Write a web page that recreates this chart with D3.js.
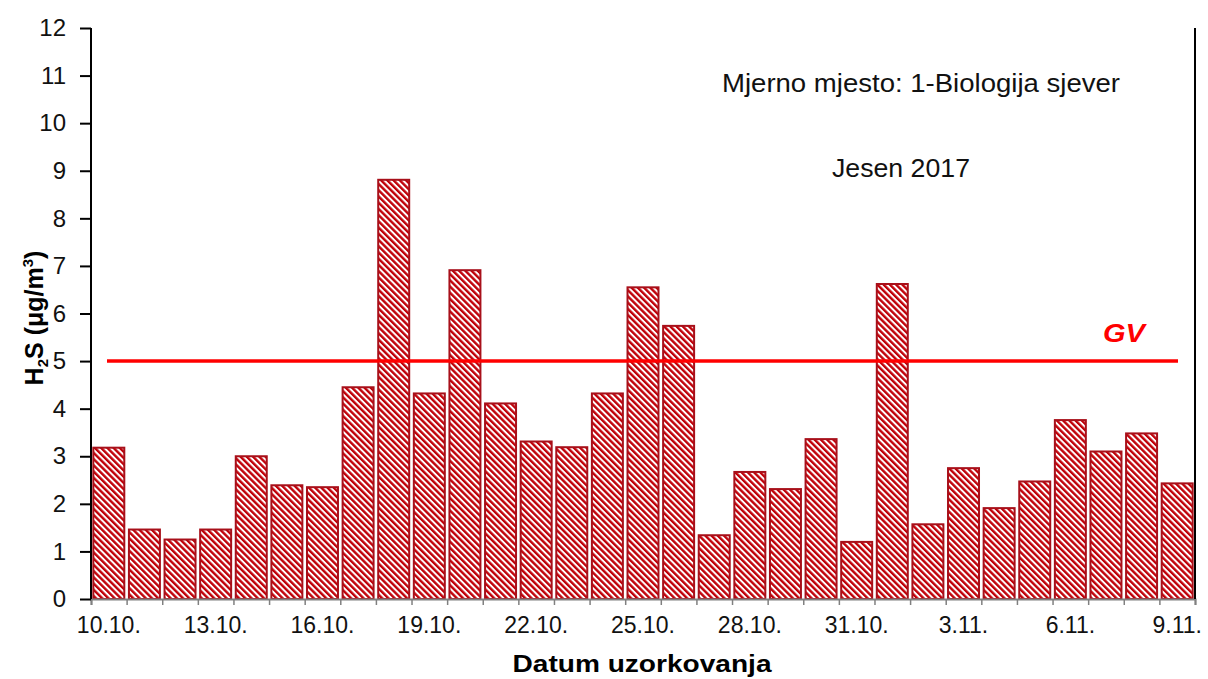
<!DOCTYPE html>
<html>
<head>
<meta charset="utf-8">
<script src="https://cdn.jsdelivr.net/npm/d3@7"></script>
<style>
  body { margin: 0; background: #fff; }
  svg { display: block; font-family: "Liberation Sans", Arial, sans-serif; }
</style>
</head>
<body>
<div id="chart"></div>
<script>
// chart size
const WIDTH = 1208;
const HEIGHT = 679;
const PLOT = {left: 91, right: 1195, top: 28, bottom: 599};

// sampling days (autumn 2017)
const DATES = ["10.10.", "11.10.", "12.10.", "13.10.", "14.10.", "15.10.", "16.10.", "17.10.",
               "18.10.", "19.10.", "20.10.", "21.10.", "22.10.", "23.10.", "24.10.", "25.10.",
               "26.10.", "27.10.", "28.10.", "29.10.", "30.10.", "31.10.", "1.11.", "2.11.",
               "3.11.", "4.11.", "5.11.", "6.11.", "7.11.", "8.11.", "9.11."];

// H2S concentration, µg/m3
const H2S = [3.18, 1.46, 1.25, 1.46, 3.0, 2.39, 2.35, 4.45, 8.81, 4.32, 6.91, 4.11, 3.31, 3.19, 4.32, 6.55,
             5.74, 1.34, 2.67, 2.31, 3.36, 1.20, 6.62, 1.57, 2.75, 1.91, 2.47, 3.76, 3.10, 3.48, 2.43];

// labelled dates on x axis
const X_LABELS = ["10.10.", "13.10.", "16.10.", "19.10.", "22.10.", "25.10.", "28.10.", "31.10.",
                  "3.11.", "6.11.", "9.11."];

const Y_TICKS = d3.range(0, 13);
const GV = 5; // limit value

const svg = d3.select("#chart")
              .append("svg")
                .attr("width", WIDTH)
                .attr("height", HEIGHT);

// hatch pattern for bars
const pat = svg.append("defs")
               .append("pattern")
                 .attr("id", "hatch")
                 .attr("patternUnits", "userSpaceOnUse")
                 .attr("width", 4.4)
                 .attr("height", 4.4)
                 .attr("patternTransform", "rotate(-45)");
pat.append("rect").attr("width", 4.4).attr("height", 4.4).attr("fill", "#fff");
pat.append("rect").attr("width", 2.4).attr("height", 4.4).attr("fill", "#c00008");

// scales
const x = d3.scaleBand()
            .domain(DATES)
            .range([PLOT.left, PLOT.right])
            .paddingInner(0.13)
            .paddingOuter(0.065);

const xEdge = d3.scaleLinear()
                .domain([0, DATES.length])
                .range([PLOT.left, PLOT.right]);

const y = d3.scaleLinear()
            .domain([0, 12])
            .range([PLOT.bottom, PLOT.top]);

// bars
svg.append("g")
   .selectAll("rect")
   .data(H2S)
   .enter()
   .append("rect")
     .attr("x", (d, i) => x(DATES[i]))
     .attr("y", (d) => y(d))
     .attr("width", x.bandwidth())
     .attr("height", (d) => y(0) - y(d))
     .attr("fill", "url(#hatch)")
     .attr("stroke", "#a8101a")
     .attr("stroke-width", 2);

// x axis: tick marks at day boundaries
const xTicks = svg.append("g")
   .attr("transform", "translate(0," + PLOT.bottom + ")")
   .call(d3.axisBottom(xEdge).tickValues(d3.range(0, DATES.length + 1)).tickSize(6).tickFormat(""));
xTicks.select(".domain").attr("stroke", "#808080").attr("stroke-width", 2);
xTicks.selectAll(".tick line").attr("stroke", "#808080").attr("stroke-width", 1.5);

// x axis labels
const xLab = svg.append("g")
   .attr("transform", "translate(0," + PLOT.bottom + ")")
   .call(d3.axisBottom(x).tickValues(X_LABELS).tickSize(0).tickPadding(18));
xLab.select(".domain").remove();
xLab.selectAll("text")
    .attr("font-family", "Liberation Sans, Arial, sans-serif")
    .attr("font-size", 23)
    .attr("fill", "#111");

// y axis
const yAxis = svg.append("g")
   .attr("transform", "translate(" + PLOT.left + ",0)")
   .call(d3.axisLeft(y).tickValues(Y_TICKS).tickSize(11).tickPadding(14).tickFormat(d3.format("d")));
yAxis.select(".domain").attr("stroke", "#000").attr("stroke-width", 2)
     .attr("d", "M0," + PLOT.top + "V" + PLOT.bottom);
yAxis.selectAll(".tick line").attr("stroke", "#000").attr("stroke-width", 2);
yAxis.selectAll("text")
     .attr("font-family", "Liberation Sans, Arial, sans-serif")
     .attr("font-size", 24)
     .attr("fill", "#111");

// right frame line
svg.append("line")
   .attr("x1", PLOT.right).attr("x2", PLOT.right)
   .attr("y1", y(12)).attr("y2", y(0))
   .attr("stroke", "#000")
   .attr("stroke-width", 2);

// limit value line
svg.append("line")
   .attr("x1", 107).attr("x2", 1178)
   .attr("y1", y(GV)).attr("y2", y(GV))
   .attr("stroke", "#ff0000")
   .attr("stroke-width", 3.5);

svg.append("text")
   .attr("x", 1124)
   .attr("y", y(GV) - 19)
   .attr("text-anchor", "middle")
   .attr("font-size", 26)
   .attr("font-weight", "bold")
   .attr("font-style", "italic")
   .attr("textLength", 42)
   .attr("lengthAdjust", "spacingAndGlyphs")
   .attr("fill", "#ff0000")
   .text("GV");

// titles
svg.append("text")
   .attr("x", 921)
   .attr("y", 92)
   .attr("text-anchor", "middle")
   .attr("font-size", 25)
   .attr("textLength", 398)
   .attr("lengthAdjust", "spacingAndGlyphs")
   .attr("fill", "#111")
   .text("Mjerno mjesto: 1-Biologija sjever");

svg.append("text")
   .attr("x", 901)
   .attr("y", 177)
   .attr("text-anchor", "middle")
   .attr("font-size", 25)
   .attr("textLength", 138)
   .attr("lengthAdjust", "spacingAndGlyphs")
   .attr("fill", "#111")
   .text("Jesen 2017");

// axis titles
svg.append("text")
   .attr("x", 642)
   .attr("y", 672)
   .attr("text-anchor", "middle")
   .attr("font-size", 23)
   .attr("font-weight", "bold")
   .attr("textLength", 259)
   .attr("lengthAdjust", "spacingAndGlyphs")
   .text("Datum uzorkovanja");

const yTitle = svg.append("text")
   .attr("transform", "translate(43,318) rotate(-90)")
   .attr("text-anchor", "middle")
   .attr("font-size", 25)
   .attr("font-weight", "bold");
yTitle.append("tspan").text("H");
yTitle.append("tspan").attr("font-size", 15).attr("dy", 5).text("2");
yTitle.append("tspan").attr("dy", -5).text("S (μg/m");
yTitle.append("tspan").attr("font-size", 15).attr("dy", -10).text("3");
yTitle.append("tspan").attr("dy", 10).text(")");
</script>
</body>
</html>
